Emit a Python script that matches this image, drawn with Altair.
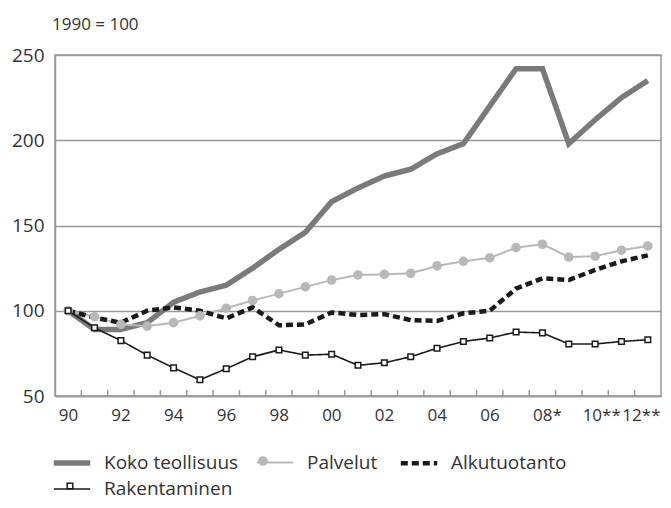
import json
import altair as alt
import pandas as pd

years = list(range(1990, 2013))
koko = [100, 89, 89, 93, 105, 111, 115, 125, 136, 146, 164, 172, 179, 183, 192, 198, 220, 242, 242, 198, 212, 225, 235]
palvelut = [100, 96.5, 92, 91, 93, 97, 101.5, 106, 110, 114, 118, 121, 121.3, 122, 126.3, 129, 131, 137, 139, 131.5, 132, 135.5, 138]
alkutuotanto = [100, 96, 93, 100, 102, 100, 95.5, 102, 91.5, 92, 99, 97.5, 98, 94.5, 94, 98.5, 100, 113, 119, 118, 124, 129, 132.5]
rakentaminen = [100, 90, 82.5, 74, 66.5, 59.5, 66, 73, 77, 74, 74.5, 68, 69.5, 73, 78, 82, 84, 87.5, 87, 80.5, 80.5, 82, 83]

series_names = ["Koko teollisuus", "Palvelut", "Alkutuotanto", "Rakentaminen"]
series_values = [koko, palvelut, alkutuotanto, rakentaminen]
series_colors = ["#7a7a7a", "#b8b8b8", "#1a1a1a", "#1a1a1a"]
series_widths = [5.5, 2, 4.5, 1.6]
series_dashes = [[1, 0], [1, 0], [7, 4], [1, 0]]

label_years = list(range(1990, 2013, 2))
label_texts = ["90", "92", "94", "96", "98", "00", "02", "04", "06", "08*", "10**", "12**"]
tick_years = [y + 0.5 for y in range(1990, 2012)]
y_ticks = [50, 100, 150, 200, 250]

rows = []
for name, vals in zip(series_names, series_values):
    for yr, v in zip(years, vals):
        rows.append({"year": yr, "value": v, "series": name})
df = pd.DataFrame(rows)
ticks_df = pd.DataFrame({"tick": tick_years})

FONT = "Open Sans"
W, H = 606, 341
LX, LY = 0, 391

label_expr = "{}[indexof({}, datum.value)]".format(json.dumps(label_texts), json.dumps(label_years))

x_enc = alt.X("year:Q", scale=alt.Scale(domain=[1989.5, 2012.5], nice=False, zero=False),
              axis=alt.Axis(values=label_years, labelExpr=label_expr, title=None, ticks=False,
                            grid=False, labelAlign="left", labelOverlap=False, labelBound=False,
                            labelFontSize=17,
                            labelOffset={"condition": [
                                {"test": "datum.value == 2012", "value": -26},
                                {"test": "datum.value == 2010", "value": -13}],
                                "value": -10},
                            labelPadding=11, domainColor="#999999", domainWidth=1.5))
y_enc = alt.Y("value:Q", scale=alt.Scale(domain=[50, 250], nice=False, zero=False),
              axis=alt.Axis(values=y_ticks, title=None, ticks=False, grid=True, gridColor="#999999",
                            gridWidth=1.5, labelPadding=11, labelFontSize=19,
                            domainColor="#999999", domainWidth=1.5))

empty_path = "M0,0"
circle_path = "M-0.29,0A0.29,0.29 0 1 1 0.29,0A0.29,0.29 0 1 1 -0.29,0Z"
square_path = "M-0.2,-0.2H0.2V0.2H-0.2Z"
line_path = "M-1.3,0H1.3"

marker_names = ["_" + s for s in series_names]

legend_common = dict(
    title=None, orient="none", legendX=LX, legendY=LY, columns=3, direction="horizontal",
    columnPadding=13, rowPadding=0, padding=0, symbolSize=784, labelOffset=15,
    labelFont=FONT, labelFontSize=19, labelLimit=300,
)

legend_lines = alt.Legend(labelColor="#333333", symbolType=line_path, zindex=0, **legend_common)
legend_marks = alt.Legend(labelColor="#333333", labelOpacity=0, symbolStrokeWidth=1.5, zindex=1,
                          labelExpr="slice(datum.label, 1)", **legend_common)

base = alt.Chart(df)

lines = base.mark_line(strokeCap="butt").encode(
    x=x_enc,
    y=y_enc,
    color=alt.Color("series:N", scale=alt.Scale(domain=series_names, range=series_colors),
                    legend=legend_lines),
    strokeDash=alt.StrokeDash("series:N", scale=alt.Scale(domain=series_names, range=series_dashes),
                              legend=legend_lines),
    strokeWidth=alt.StrokeWidth("series:N", scale=alt.Scale(type="ordinal", domain=series_names,
                                range=series_widths), legend=legend_lines),
    detail="series:N",
)

points = base.transform_filter(
    "datum.series === 'Palvelut' || datum.series === 'Rakentaminen'"
).transform_calculate(marker="'_' + datum.series").mark_point(size=784, opacity=1, strokeWidth=1.5).encode(
    x="year:Q",
    y="value:Q",
    shape=alt.Shape("marker:N", scale=alt.Scale(domain=marker_names,
                    range=[empty_path, circle_path, empty_path, square_path]), legend=legend_marks),
    fill=alt.Fill("marker:N", scale=alt.Scale(domain=marker_names,
                  range=["transparent", series_colors[1], "transparent", "#ffffff"]), legend=legend_marks),
    stroke=alt.Stroke("marker:N", scale=alt.Scale(domain=marker_names,
                      range=["transparent", series_colors[1], "transparent", "#1a1a1a"]), legend=legend_marks),
)

tick_rules = alt.Chart(ticks_df).mark_rule(color="#999999", strokeWidth=1.5).encode(
    x="tick:Q", y=alt.value(H), y2=alt.value(H - 6)
)

chart = alt.layer(tick_rules, lines, points).properties(
    width=W, height=H,
    background="white",
    title=alt.TitleParams("1990 = 100", anchor="start", frame="group", font=FONT, fontSize=17,
                          fontWeight="normal", color="#333333", dx=-3, offset=12),
    autosize=alt.AutoSizeParams(type="none"),
    padding={"left": 47, "top": 47, "right": 2, "bottom": 104},
).configure_view(stroke="#999999", strokeWidth=1.5).configure_axis(
    labelFont=FONT, labelColor="#333333"
).configure_title(font=FONT, fontSize=17, fontWeight="normal", color="#333333")

chart.save("out.html", embed_options={"renderer": "svg", "actions": False})
